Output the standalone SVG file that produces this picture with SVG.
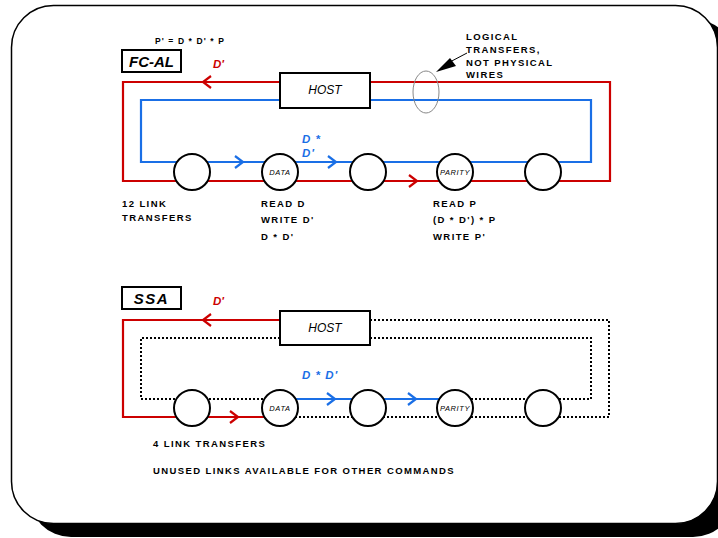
<svg xmlns="http://www.w3.org/2000/svg" width="718" height="538" viewBox="0 0 718 538">
<style>
.t{font-family:"Liberation Sans",Arial,sans-serif;font-weight:bold;font-size:9.5px;letter-spacing:1.4px;fill:#000}
.host{font-family:"Liberation Sans",Arial,sans-serif;font-style:italic;font-size:12px;fill:#000;text-anchor:middle}
.title{font-family:"Liberation Sans",Arial,sans-serif;font-style:italic;font-weight:bold;font-size:15px;fill:#000;text-anchor:middle}
.red{font-family:"Liberation Sans",Arial,sans-serif;font-style:italic;font-weight:bold;font-size:11.5px;fill:#cc0000}
.blue{font-family:"Liberation Sans",Arial,sans-serif;font-style:italic;font-weight:bold;font-size:11.5px;fill:#1a6fe6;letter-spacing:1px}
.small{font-family:"Liberation Sans",Arial,sans-serif;font-style:italic;font-size:7.5px;fill:#000;text-anchor:middle;letter-spacing:0.6px}
.node{fill:#fff;stroke:#000;stroke-width:2}
.box{fill:#fff;stroke:#000;stroke-width:2}
.rl{fill:none;stroke:#cc0000;stroke-width:2.2}
.bl{fill:none;stroke:#1a6fe6;stroke-width:2.2}
.dl{fill:none;stroke:#000;stroke-width:2;stroke-dasharray:2 2}
</style>
<rect width="718" height="538" fill="#fff"/>
<rect x="29" y="19" width="706" height="518" rx="42" fill="#000"/>
<rect x="11.5" y="5.5" width="706" height="518" rx="42" fill="#fff" stroke="#000" stroke-width="1.5"/>

<g id="connectors">
  <!-- FC-AL -->
  <path class="rl" d="M280,82 H123 V181 H610 V82 H370"/>
  <path class="bl" d="M280,100 H141 V162 H591 V100 H370"/>
  <path class="rl" d="M211,76 L203,82 L211,88"/>
  <path class="bl" d="M235,156 L243,162 L235,168"/>
  <path class="bl" d="M328,156 L336,162 L328,168"/>
  <path class="rl" d="M409,175 L417,181 L409,187"/>
  <ellipse cx="426" cy="92" rx="13" ry="21" fill="none" stroke="#888" stroke-width="1"/>
  <line x1="467" y1="53" x2="448" y2="63" stroke="#000" stroke-width="1"/>
  <polygon points="436,72 450,58 456,66" fill="#000"/>
  <!-- SSA -->
  <path class="rl" d="M280,320 H123 V417 H280"/>
  <path class="dl" d="M370,320 H609 V417 H280"/>
  <path class="dl" d="M280,338 H141 V399 H280"/>
  <path class="dl" d="M455,399 H591 V338 H370"/>
  <path class="bl" d="M280,399 H455"/>
  <path class="rl" d="M211,314 L203,320 L211,326"/>
  <path class="rl" d="M230,411 L238,417 L230,423"/>
  <path class="bl" d="M327,393 L335,399 L327,405"/>
  <path class="bl" d="M408,393 L416,399 L408,405"/>
</g>

<g id="fcal-label">
  <rect class="box" x="122" y="50" width="59" height="22"/>
  <text class="title" x="151.5" y="67">FC-AL</text>
</g>
<g id="fcal-host">
  <rect class="box" x="280" y="73" width="90" height="35"/>
  <text class="host" x="325" y="94">HOST</text>
</g>
<g id="fcal-n1"><circle class="node" cx="192" cy="172" r="18"/></g>
<g id="fcal-data"><circle class="node" cx="280" cy="172" r="18"/><text class="small" x="280" y="175">DATA</text></g>
<g id="fcal-n3"><circle class="node" cx="368" cy="172" r="18"/></g>
<g id="fcal-parity"><circle class="node" cx="455" cy="172" r="18"/><text class="small" x="455" y="175">PARITY</text></g>
<g id="fcal-n5"><circle class="node" cx="543" cy="172" r="18"/></g>

<g id="ssa-label">
  <rect class="box" x="122" y="287" width="59" height="22"/>
  <text class="title" x="151.5" y="304" letter-spacing="1.5">SSA</text>
</g>
<g id="ssa-host">
  <rect class="box" x="280" y="311" width="90" height="34"/>
  <text class="host" x="325" y="332">HOST</text>
</g>
<g id="ssa-n1"><circle class="node" cx="192" cy="408" r="18"/></g>
<g id="ssa-data"><circle class="node" cx="280" cy="408" r="18"/><text class="small" x="280" y="411">DATA</text></g>
<g id="ssa-n3"><circle class="node" cx="368" cy="408" r="18"/></g>
<g id="ssa-parity"><circle class="node" cx="455" cy="408" r="18"/><text class="small" x="455" y="411">PARITY</text></g>
<g id="ssa-n5"><circle class="node" cx="543" cy="408" r="18"/></g>

<g id="texts">
  <text class="t" x="155" y="44" style="font-size:8.5px;letter-spacing:1.1px">P' = D * D' * P</text>
  <text class="red" x="213" y="68">D'</text>
  <text class="t" x="466" y="40">LOGICAL</text>
  <text class="t" x="466" y="53">TRANSFERS,</text>
  <text class="t" x="466" y="66">NOT PHYSICAL</text>
  <text class="t" x="466" y="78">WIRES</text>
  <text class="blue" x="302" y="143">D *</text>
  <text class="blue" x="302" y="157">D'</text>
  <text class="t" x="122" y="207">12 LINK</text>
  <text class="t" x="122" y="221">TRANSFERS</text>
  <text class="t" x="261" y="207">READ D</text>
  <text class="t" x="261" y="223">WRITE D'</text>
  <text class="t" x="261" y="240">D * D'</text>
  <text class="t" x="433" y="207">READ P</text>
  <text class="t" x="433" y="223">(D * D') * P</text>
  <text class="t" x="433" y="240">WRITE P'</text>
  <text class="red" x="213" y="305">D'</text>
  <text class="blue" x="302" y="379">D * D'</text>
  <text class="t" x="153" y="447">4 LINK TRANSFERS</text>
  <text class="t" x="153" y="474">UNUSED LINKS AVAILABLE FOR OTHER COMMANDS</text>
</g>
</svg>
